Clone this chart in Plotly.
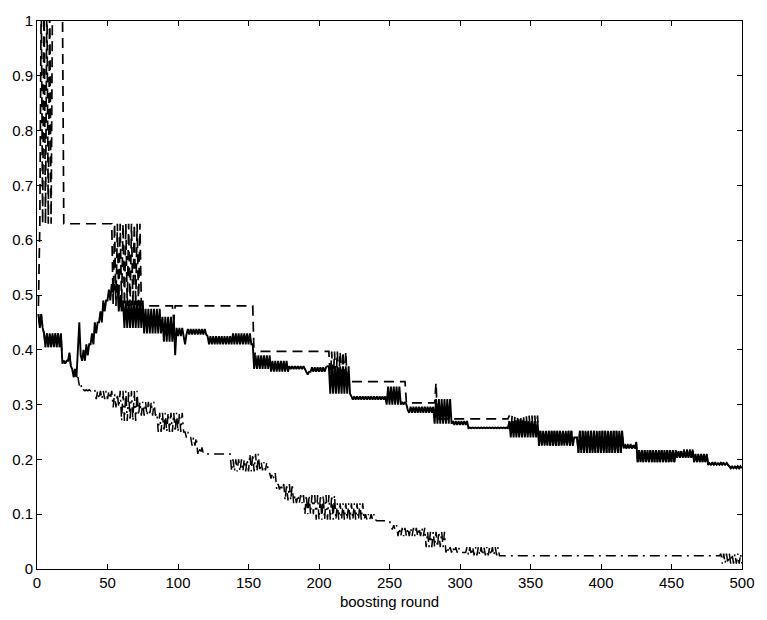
import plotly.graph_objects as go

# Each series is stored as runs of boosting rounds: run length, lower value, upper value.
# Inside a run the curve alternates between the lower and upper value round by round.

# solid curve
solid_len = [4, 13, 4, 1, 1, 1, 4, 1, 1, 1, 3, 3, 3, 3, 3, 3, 3, 5, 3, 15, 13, 9, 1, 6, 1, 15,
             18, 13, 2, 12, 13, 12, 3, 12, 1, 16, 25, 11, 4, 1, 18, 13, 11, 29, 21, 25, 3, 32,
             9, 1, 28, 12, 10, 15, 10]
solid_lo = [0.44, 0.405, 0.375, 0.38, 0.395, 0.37, 0.35, 0.40, 0.45, 0.39, 0.38, 0.39, 0.41,
            0.43, 0.45, 0.47, 0.49, 0.505, 0.47, 0.44, 0.43, 0.415, 0.39, 0.425, 0.41, 0.428,
            0.41, 0.41, 0.41, 0.365, 0.36, 0.365, 0.355, 0.36, 0.37, 0.32, 0.309, 0.30, 0.30,
            0.29, 0.285, 0.265, 0.263, 0.257, 0.24, 0.225, 0.24, 0.212, 0.22, 0.232, 0.195,
            0.203, 0.195, 0.19, 0.184]
solid_hi = [0.465, 0.43, 0.38, 0.38, 0.395, 0.37, 0.365, 0.40, 0.45, 0.39, 0.40, 0.41, 0.43,
            0.45, 0.47, 0.49, 0.51, 0.52, 0.50, 0.49, 0.475, 0.46, 0.39, 0.44, 0.41, 0.438,
            0.425, 0.43, 0.41, 0.39, 0.38, 0.37, 0.36, 0.368, 0.37, 0.37, 0.315, 0.333, 0.305,
            0.29, 0.296, 0.31, 0.27, 0.258, 0.27, 0.252, 0.24, 0.252, 0.226, 0.232, 0.217,
            0.215, 0.21, 0.193, 0.187]

# dashed curve
dashed_len = [1, 10, 7, 35, 21, 22, 1, 56, 1, 52, 14, 30, 11, 21, 1, 51, 21, 25, 3, 32, 10,
              28, 12, 10, 15, 10]
dashed_lo = [0.48, 0.63, 1.05, 0.63, 0.48, 0.48, 0.455, 0.48, 0.385, 0.397, 0.34, 0.342, 0.342,
             0.303, 0.34, 0.274, 0.25, 0.225, 0.24, 0.212, 0.22, 0.195, 0.205, 0.195, 0.19, 0.184]
dashed_hi = [0.48, 1.05, 1.05, 0.63, 0.63, 0.48, 0.455, 0.48, 0.385, 0.397, 0.397, 0.342, 0.342,
             0.303, 0.34, 0.274, 0.28, 0.252, 0.24, 0.252, 0.228, 0.217, 0.218, 0.21, 0.195, 0.188]

# dash-dot curve
dashdot_len = [4, 13, 4, 1, 1, 1, 3, 2, 2, 10, 12, 5, 13, 13, 20, 4, 5, 5, 19, 13, 8, 6, 5, 5,
               7, 7, 8, 16, 20, 8, 10, 5, 20, 14, 10, 5, 23, 157, 16]
dashdot_lo = [0.44, 0.405, 0.375, 0.38, 0.395, 0.37, 0.35, 0.345, 0.335, 0.325, 0.31, 0.295,
              0.27, 0.28, 0.25, 0.24, 0.225, 0.21, 0.21, 0.178, 0.178, 0.18, 0.165, 0.145,
              0.125, 0.12, 0.10, 0.09, 0.09, 0.09, 0.088, 0.072, 0.06, 0.04, 0.03, 0.03,
              0.025, 0.024, 0.01]
dashdot_hi = [0.465, 0.43, 0.38, 0.38, 0.395, 0.37, 0.365, 0.35, 0.34, 0.327, 0.325, 0.32,
              0.325, 0.305, 0.285, 0.25, 0.24, 0.222, 0.21, 0.20, 0.21, 0.195, 0.175, 0.155,
              0.155, 0.135, 0.135, 0.135, 0.12, 0.10, 0.088, 0.08, 0.075, 0.068, 0.04, 0.03,
              0.04, 0.024, 0.028]

x_ticks = [0, 50, 100, 150, 200, 250, 300, 350, 400, 450, 500]
y_ticks = [0, 0.1, 0.2, 0.3, 0.4, 0.5, 0.6, 0.7, 0.8, 0.9, 1]
y_tick_text = ["0", "0.1", "0.2", "0.3", "0.4", "0.5", "0.6", "0.7", "0.8", "0.9", "1"]


def expand(lens, los, his, start=1):
    xs, ys = [], []
    r = start
    for n, lo, hi in zip(lens, los, his):
        for _ in range(n):
            xs.append(r)
            ys.append(hi if r % 2 else lo)
            r += 1
    return xs, ys


fig = go.Figure()
for lens, los, his, dash, w in [
    (dashdot_len, dashdot_lo, dashdot_hi, "10px,5px,2px,5px", 1.5),
    (dashed_len, dashed_lo, dashed_hi, "10px,6px", 1.7),
    (solid_len, solid_lo, solid_hi, "solid", 1.9),
]:
    xs, ys = expand(lens, los, his)
    fig.add_trace(go.Scatter(x=xs, y=ys, mode="lines",
                             line=dict(color="black", width=w, dash=dash),
                             hoverinfo="skip", showlegend=False))

axis_common = dict(showline=True, linecolor="black", linewidth=1, mirror="allticks",
                   ticks="inside", ticklen=5, tickcolor="black", showgrid=False,
                   zeroline=False, tickfont=dict(size=15, color="black"))

fig.update_layout(
    width=767, height=620,
    margin=dict(l=37, r=12, t=14, b=39),
    paper_bgcolor="white", plot_bgcolor="white",
    font=dict(family="Liberation Sans, Arial, sans-serif", size=15, color="black"),
    xaxis=dict(range=[0, 500], tickvals=x_ticks, ticktext=[str(v) for v in x_ticks],
               title=dict(text="boosting round", standoff=6, font=dict(size=15)),
               **axis_common),
    yaxis=dict(range=[0, 1], tickvals=y_ticks, ticktext=y_tick_text, **axis_common),
)

fig.write_html("out.html")
